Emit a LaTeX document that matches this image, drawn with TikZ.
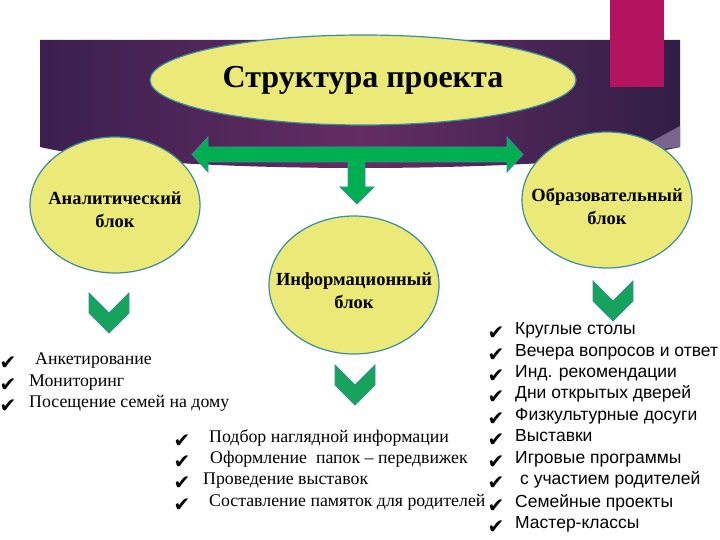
\documentclass[tikz,border=0pt]{standalone}
\usepackage{fontspec}
\setmainfont{Liberation Serif}
\newfontfamily\sansf{Liberation Sans}
\newfontfamily\symf{DejaVu Sans}
\usetikzlibrary{shapes.geometric}
\definecolor{yel}{RGB}{235,234,120}
\definecolor{tealc}{RGB}{60,140,160}
\definecolor{grn}{RGB}{0,176,80}
\definecolor{chevg}{RGB}{22,163,92}
\definecolor{mag}{RGB}{180,20,95}
\definecolor{pdark}{RGB}{58,32,78}
\definecolor{pdark2}{RGB}{48,30,70}
\definecolor{pmid}{RGB}{100,45,100}
\definecolor{lav}{RGB}{120,100,140}
\begin{document}
\begin{tikzpicture}[x=1pt,y=-1pt,
  blk/.style={ellipse, draw=tealc, line width=1.2pt, fill=yel, inner sep=0pt},
  blktxt/.style={align=center, inner sep=0pt, font=\fontsize{18.5}{23}\selectfont\bfseries},
  chk/.style={font=\symf\fontsize{20}{20}\selectfont, inner sep=0pt},
  ser/.style={anchor=mid west, inner sep=0pt, font=\fontsize{17.8}{17.8}\selectfont},
  san/.style={anchor=mid west, inner sep=0pt, font=\sansf\fontsize{17.5}{17.5}\selectfont},
  chevst/.style={fill=chevg, draw=tealc, line width=0.8pt, line join=miter},
  chev/.pic={\path[chevst] (-20,0) -- (0,20) -- (20,0) -- (20,20) -- (0,40) -- (-20,20) -- cycle;}
]
\useasboundingbox (0,0) rectangle (720,540);
% band
\shade[left color=pdark, right color=pdark2, middle color=pmid]
  (40,40) -- (680,40) -- (680,147) .. controls (560,175) and (160,175) .. (40,147) -- cycle;
\fill[lav] (630,153) -- (680,126) -- (680,147) -- cycle;
\fill[mag] (610,0) rectangle (664,87);
% arrows
\path[fill=grn, draw=tealc, line width=0.8pt, line join=miter]
  (192,154.5) -- (208,137) -- (208,147) -- (507,147) -- (507,137) -- (523,154.5)
  -- (507,172) -- (507,162) -- (365,162) -- (365,187) -- (374,187) -- (357,204)
  -- (340,187) -- (348,187) -- (348,162) -- (208,162) -- (208,172) -- cycle;
% ellipses
\node[blk, minimum width=426pt, minimum height=90pt] (title) at (363,80) {};
\node[blktxt, font=\fontsize{32}{36}\selectfont\bfseries] (titlet) at (title.center) {Структура проекта};
\node[blk, minimum width=170pt, minimum height=136pt] (an) at (115,205) {};
\node[blktxt] (ant) at ([yshift=-5pt]an.center) {Аналитический\\блок};
\node[blk, minimum width=170pt, minimum height=138pt] (inf) at (354,285) {};
\node[blktxt] (inft) at ([yshift=-6pt]inf.center) {Информационный\\блок};
\node[blk, minimum width=170pt, minimum height=136pt] (obr) at (607,200) {};
\node[blktxt] (obrt) at ([yshift=-6pt]obr.center) {Образовательный\\блок};
% chevrons
\pic at (109,293) {chev};
\pic at (355,365) {chev};
\pic at (613,281) {chev};
% left list
\node[chk] (lc1) at (8,363) {✔};
\node[chk] (lc2) at (8,385) {✔};
\node[chk] (lc3) at (8,406) {✔};
\node[ser] (lt1) at (35,362) {Анкетирование};
\node[ser] (lt2) at (29,384) {Мониторинг};
\node[ser] (lt3) at (29,405) {Посещение семей на дому};
% middle list
\node[chk] (mc1) at (182,441) {✔};
\node[chk] (mc2) at (182,462) {✔};
\node[chk] (mc3) at (182,483) {✔};
\node[chk] (mc4) at (182,505) {✔};
\node[ser] (mt1) at (209,440) {Подбор наглядной информации};
\node[ser] (mt2) at (210,461) {Оформление\ \ папок -- передвижек};
\node[ser] (mt3) at (203,482) {Проведение выставок};
\node[ser] (mt4) at (209,504) {Составление памяток для родителей};
% right list
\node[chk] (rc1) at (496,333) {✔};
\node[chk] (rc2) at (496,355) {✔};
\node[chk] (rc3) at (496,376) {✔};
\node[chk] (rc4) at (496,397) {✔};
\node[chk] (rc5) at (496,419) {✔};
\node[chk] (rc6) at (496,440) {✔};
\node[chk] (rc7) at (496,462) {✔};
\node[chk] (rc8) at (496,483) {✔};
\node[chk] (rc9) at (496,506) {✔};
\node[chk] (rc10) at (496,527) {✔};
\node[san] (rt1) at (515,332) {Круглые столы};
\node[san] (rt2) at (515,354) {Вечера вопросов и ответ};
\node[san] (rt3) at (515,375) {Инд. рекомендации};
\node[san] (rt4) at (515,396) {Дни открытых дверей};
\node[san] (rt5) at (515,418) {Физкультурные досуги};
\node[san] (rt6) at (515,439) {Выставки};
\node[san] (rt7) at (515,461) {Игровые программы};
\node[san] (rt8) at (520,482) {с участием родителей};
\node[san] (rt9) at (515,505) {Семейные проекты};
\node[san] (rt10) at (515,526) {Мастер-классы};
\end{tikzpicture}
\end{document}
